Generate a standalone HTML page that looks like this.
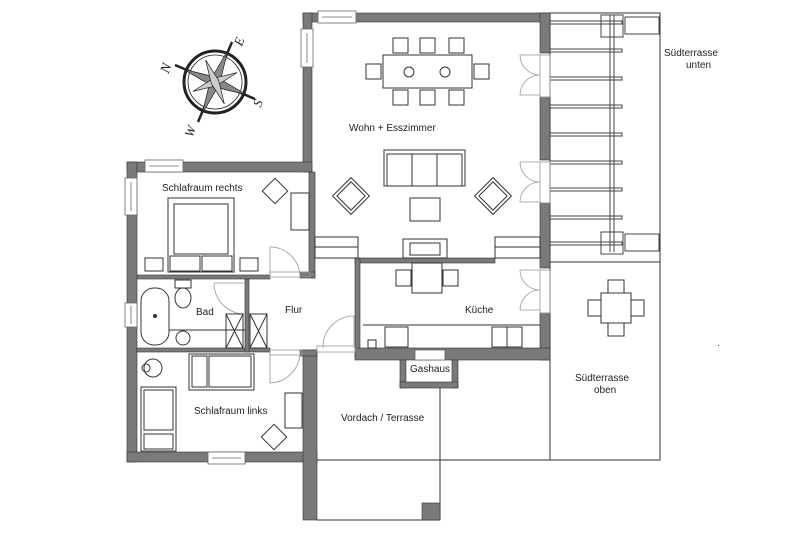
<!DOCTYPE html>
<html><head><meta charset="utf-8"><style>
html,body{margin:0;padding:0;background:#fff;}
svg{display:block;}
text{font-family:"Liberation Sans",sans-serif;font-size:10px;fill:#222;}
</style></head><body>
<svg width="800" height="533" viewBox="0 0 800 533" xmlns="http://www.w3.org/2000/svg">
<g fill="none" stroke="#333" stroke-width="1">
<!-- terraces -->
<rect x="550" y="13" width="110" height="249"/>
<rect x="550" y="262" width="110" height="198"/>
<line x1="317" y1="460" x2="550" y2="460"/>
<line x1="440" y1="385" x2="440" y2="520"/>
<line x1="317" y1="520" x2="440" y2="520"/>
<!-- pergola -->
<g stroke="#444">
<rect x="601" y="15" width="22" height="22"/><rect x="625" y="17" width="34" height="17"/>
<rect x="601" y="232" width="22" height="22"/><rect x="625" y="234" width="34" height="17"/>
<line x1="610" y1="15" x2="610" y2="252"/><line x1="614" y1="15" x2="614" y2="252"/>
<g id="bars">
<rect x="550" y="21" width="72" height="3"/>
<rect x="550" y="49" width="72" height="3"/>
<rect x="550" y="77" width="72" height="3"/>
<rect x="550" y="105" width="72" height="3"/>
<rect x="550" y="133" width="72" height="3"/>
<rect x="550" y="161" width="72" height="3"/>
<rect x="550" y="188" width="72" height="3"/>
<rect x="550" y="216" width="72" height="3"/>
<rect x="550" y="242" width="72" height="3"/>
</g>
</g>
<!-- patio table -->
<rect x="601" y="293" width="30" height="30"/>
<rect x="608" y="280" width="16" height="13"/><rect x="608" y="323" width="16" height="13"/>
<rect x="588" y="300" width="13" height="16"/><rect x="631" y="300" width="13" height="16"/>
</g>
<!-- walls -->
<g fill="#7a7a7a" stroke="#333" stroke-width="0.6">
<rect x="303" y="13" width="247" height="9"/>
<rect x="303" y="13" width="9" height="159"/>
<rect x="540" y="13" width="10" height="40"/>
<rect x="540" y="97" width="10" height="63"/>
<rect x="540" y="203" width="10" height="65"/>
<rect x="540" y="313" width="10" height="47"/>
<rect x="127" y="162" width="185" height="10"/>
<rect x="127" y="162" width="10" height="300"/>
<rect x="127" y="452" width="190" height="10"/>
<rect x="303" y="350" width="14" height="170"/>
<rect x="309" y="172" width="6" height="106"/>
<rect x="300" y="272" width="15" height="6"/>
<rect x="137" y="275" width="133" height="4"/>
<rect x="137" y="348" width="133" height="4"/>
<rect x="245" y="279" width="4" height="73"/>
<rect x="355" y="258" width="140" height="5"/>
<rect x="355" y="258" width="5" height="100"/>
<rect x="355" y="348" width="195" height="12"/>
<rect x="400" y="360" width="6" height="28"/>
<rect x="452" y="360" width="6" height="28"/>
<rect x="400" y="382" width="58" height="6"/>
<rect x="422" y="503" width="18" height="17"/>
<rect x="300" y="350" width="17" height="6"/>
</g>
<!-- windows -->
<g fill="#fff" stroke="#666" stroke-width="0.8">
<rect x="318" y="11" width="38" height="12"/><line x1="322" y1="17" x2="352" y2="17"/>
<rect x="301" y="29" width="12" height="38"/><line x1="307" y1="33" x2="307" y2="63"/>
<rect x="145" y="160" width="38" height="12"/><line x1="149" y1="166" x2="179" y2="166"/>
<rect x="125" y="178" width="12" height="37"/><line x1="131" y1="182" x2="131" y2="211"/>
<rect x="125" y="303" width="12" height="24"/><line x1="131" y1="306" x2="131" y2="324"/>
<rect x="208" y="452" width="37" height="12"/><line x1="212" y1="458" x2="241" y2="458"/>
<rect x="415" y="350" width="30" height="10"/>
</g>
<!-- doors -->
<g fill="none" stroke="#999" stroke-width="0.8">
<path d="M270 278 L270 247 A30 30 0 0 1 300 277"/><rect x="270" y="272" width="40" height="5"/>
<path d="M245 283 L214 283 A31 31 0 0 0 245 314"/>
<path d="M270 352 L270 383 A31 31 0 0 0 300 352"/><rect x="270" y="350" width="32" height="5"/>
<path d="M354 348 L354 316 A31 31 0 0 0 323 348"/><rect x="317" y="346" width="38" height="6"/>
<path d="M540 55 L520 55 A20 20 0 0 0 540 75 A20 20 0 0 0 520 95 L540 95"/><rect x="540" y="55" width="10" height="42"/>
<path d="M540 162 L520 162 A20 20 0 0 0 540 182 A20 20 0 0 0 520 202 L540 202"/><rect x="540" y="162" width="10" height="41"/>
<path d="M540 270 L520 270 A20 20 0 0 0 540 290 A20 20 0 0 0 520 310 L540 310"/><rect x="540" y="270" width="10" height="43"/>
</g>
<!-- furniture -->
<g fill="none" stroke="#333" stroke-width="1">
<rect x="383" y="55" width="89" height="33"/>
<circle cx="409" cy="72" r="5"/><circle cx="445" cy="72" r="5"/>
<rect x="393" y="38" width="15" height="15"/><rect x="420" y="38" width="15" height="15"/><rect x="449" y="38" width="15" height="15"/>
<rect x="393" y="90" width="15" height="15"/><rect x="420" y="90" width="15" height="15"/><rect x="449" y="90" width="15" height="15"/>
<rect x="366" y="64" width="15" height="15"/><rect x="474" y="64" width="15" height="15"/>
<rect x="384" y="150" width="81" height="36"/><rect x="387" y="154" width="75" height="32"/>
<line x1="412" y1="154" x2="412" y2="186"/><line x1="437" y1="154" x2="437" y2="186"/>
<rect x="338" y="183" width="26" height="26" transform="rotate(45 351 196)"/>
<rect x="341" y="186" width="20" height="20" transform="rotate(45 351 196)"/>
<rect x="480" y="183" width="26" height="26" transform="rotate(45 493 196)"/>
<rect x="483" y="186" width="20" height="20" transform="rotate(45 493 196)"/>
<rect x="410" y="198" width="30" height="23"/>
<rect x="403" y="239" width="44" height="19"/><rect x="410" y="243" width="30" height="12"/>
<rect x="315" y="237" width="43" height="21"/><line x1="315" y1="247" x2="358" y2="247"/>
<rect x="495" y="237" width="45" height="21"/><line x1="495" y1="247" x2="540" y2="247"/>
<!-- kitchen -->
<rect x="412" y="263" width="30" height="30"/>
<rect x="396" y="270" width="15" height="16"/><rect x="443" y="270" width="15" height="16"/>
<line x1="363" y1="325" x2="540" y2="325"/>
<rect x="385" y="327" width="23" height="20"/><rect x="492" y="327" width="15" height="20"/><rect x="507" y="327" width="15" height="20"/>
<rect x="368" y="340" width="8" height="8"/>
<!-- bedroom right -->
<rect x="168" y="198" width="66" height="74"/><rect x="174" y="204" width="54" height="50"/>
<rect x="170" y="256" width="30" height="15"/><rect x="202" y="256" width="30" height="15"/>
<rect x="145" y="258" width="18" height="13"/><rect x="240" y="258" width="18" height="13"/>
<rect x="291" y="193" width="18" height="37"/>
<rect x="266" y="182" width="18" height="18" transform="rotate(45 275 191)"/>
<!-- bath -->
<rect x="141" y="288" width="28" height="57" rx="13"/><circle cx="155" cy="316" r="1.5" fill="#333"/>
<rect x="175" y="280" width="16" height="8"/><ellipse cx="183" cy="298" rx="8" ry="10"/>
<line x1="169" y1="330" x2="245" y2="330"/><circle cx="183" cy="338" r="7"/>
<rect x="226" y="314" width="17" height="34"/><path d="M226 314 L243 348 M243 314 L226 348"/>
<rect x="250" y="314" width="17" height="34"/><path d="M250 314 L267 348 M267 314 L250 348"/>
<!-- bedroom left -->
<rect x="189" y="354" width="65" height="36"/><rect x="192" y="356" width="15" height="31"/><rect x="209" y="356" width="42" height="31"/>
<circle cx="153" cy="368" r="9"/><circle cx="146" cy="368" r="4"/>
<rect x="141" y="387" width="35" height="64"/><rect x="144" y="390" width="29" height="40"/><rect x="144" y="434" width="29" height="15"/>
<rect x="285" y="393" width="17" height="35"/>
<rect x="265" y="428" width="18" height="18" transform="rotate(45 274 437)"/>
</g>
<!-- compass -->
<g transform="translate(215 82)" stroke="#222" fill="none">
<circle r="31" stroke-width="3"/><circle r="27" stroke-width="0.8"/>
<line x1="-40" y1="-17" x2="40" y2="17" stroke-width="2.5"/>
<line x1="-17" y1="40" x2="17" y2="-40" stroke-width="2.5"/>
<polygon points="0,-34 5,0 0,34 -5,0" fill="#888" transform="rotate(22)" stroke-width="0.7"/>
<polygon points="-34,0 0,5 34,0 0,-5" fill="#888" transform="rotate(22)" stroke-width="0.7"/>
<polygon points="0,-24 4,0 0,24 -4,0" fill="#ccc" transform="rotate(67)" stroke-width="0.7"/>
<polygon points="-24,0 0,4 24,0 0,-4" fill="#ccc" transform="rotate(67)" stroke-width="0.7"/>
</g>
<g style="font-family:'Liberation Serif',serif;font-size:14px;font-style:italic;">
<text x="158" y="73" transform="rotate(-70 164 66)" style="font-size:14px;font-family:'Liberation Serif',serif">N</text>
<text x="233" y="46" transform="rotate(-70 238 40)" style="font-size:13px;font-family:'Liberation Serif',serif">E</text>
<text x="252" y="107" transform="rotate(-70 257 101)" style="font-size:13px;font-family:'Liberation Serif',serif">S</text>
<text x="182" y="137" transform="rotate(-70 188 130)" style="font-size:13px;font-family:'Liberation Serif',serif">W</text>
</g>
<!-- labels -->
<text x="162" y="191">Schlafraum rechts</text>
<text x="196" y="315">Bad</text>
<text x="285" y="313">Flur</text>
<text x="349" y="131">Wohn + Esszimmer</text>
<text x="465" y="313">Küche</text>
<text x="410" y="372">Gashaus</text>
<text x="341" y="421">Vordach / Terrasse</text>
<text x="194" y="414">Schlafraum links</text>
<text x="575" y="381">Südterrasse</text>
<text x="594" y="393">oben</text>
<text x="664" y="56">Südterrasse</text>
<text x="686" y="68">unten</text>
<rect x="718" y="345" width="1" height="1" fill="#444"/>
</svg>
</body></html>
